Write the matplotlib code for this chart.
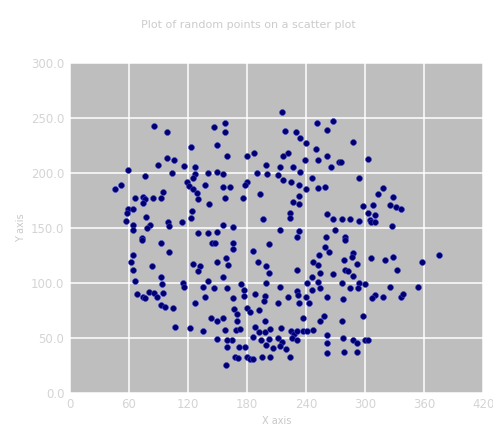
import numpy as np
import matplotlib
matplotlib.use("Agg")
import matplotlib.pyplot as plt

title = "Plot of random points on a scatter plot"
x_label = "X axis"
y_label = "Y axis"
x_ticks = [0, 60, 120, 180, 240, 300, 360, 420]
y_ticks = [0, 50, 100, 150, 200, 250, 300]

# values, grouped roughly left/top to right/bottom
x_vals = [
    85, 99, 123, 146, 149, 99, 106, 89, 116, 127, 59, 104, 127, 140, 149, 76, 125, 119, 121, 137,
    52, 46, 125, 129, 95, 66, 74, 76, 84, 92, 130, 74, 141, 59, 64, 58, 124, 77, 123, 57,
    100, 114, 81, 64, 78, 101, 64, 73, 130, 140, 149,
    216, 158, 158, 251, 267, 261, 219, 230, 234, 240, 250, 187, 180, 160, 222, 217, 239, 252, 261, 273,
    199, 213, 227, 265, 190, 200, 211, 234, 156, 217, 225, 246, 180, 178, 233, 240, 252, 259, 156, 163,
    193, 158, 176, 233, 227, 233, 224, 224, 196, 261, 267, 156, 166, 233, 213, 269, 260, 231,
    288, 303, 276, 294, 318, 313, 328, 308, 298, 325, 331, 336, 303, 310, 277, 285, 294, 305, 306, 310,
    327, 280,
    92, 73, 101, 64, 62, 83, 64, 125, 132, 130, 149, 144, 147, 92, 66, 94, 115, 116, 140, 135,
    146, 68, 74, 76, 80, 85, 88, 95, 137, 127, 92, 97, 105, 143, 149, 107, 122, 135, 149,
    166, 166, 202, 186, 159, 161, 191, 199, 202, 231, 259, 263, 253, 247, 252, 254, 267, 246, 252, 241,
    254, 246, 156, 160, 174, 177, 199, 213, 231, 232, 222, 188, 198, 177, 166, 197, 233, 240, 243, 211,
    261, 167, 180, 183, 192, 170, 156, 170, 198, 237, 258, 254, 158, 169, 173, 188, 192, 198, 203, 215,
    225, 228, 231, 237, 241, 247, 226, 231, 165, 160, 186, 194, 202, 211, 216, 261, 160, 172, 178, 199,
    206, 213, 220, 261, 168, 171, 180, 183, 186, 195, 203, 224, 261, 159,
    280, 288, 287, 279, 292, 306, 320, 328, 332, 358, 375, 280, 283, 288, 277, 294, 300, 293, 285, 325,
    354, 310, 307, 318, 336, 339, 278, 298, 277, 278, 288, 292, 300, 303, 279, 292,
]
y_vals = [
    243, 237, 224, 242, 225, 214, 212, 207, 206, 205, 203, 200, 199, 200, 201, 197, 195, 192, 188, 189,
    189, 185, 185, 182, 183, 177, 178, 176, 177, 177, 176, 173, 172, 167, 167, 164, 165, 160, 159, 156,
    155, 155, 153, 153, 150, 152, 148, 141, 145, 145, 146,
    255, 245, 237, 245, 247, 239, 238, 237, 232, 227, 222, 218, 215, 215, 218, 215, 212, 212, 215, 210,
    207, 205, 205, 205, 200, 199, 198, 201, 199, 194, 192, 195, 192, 189, 189, 185, 186, 187, 187, 187,
    181, 177, 177, 179, 174, 172, 164, 159, 158, 163, 158, 153, 151, 147, 148, 148, 142, 142,
    228, 213, 210, 195, 186, 181, 178, 171, 170, 171, 169, 167, 164, 162, 158, 158, 156, 157, 155, 155,
    152, 142,
    136, 139, 128, 125, 119, 115, 112, 117, 115, 111, 119, 136, 136, 105, 102, 99, 100, 96, 102, 96,
    95, 90, 87, 86, 92, 91, 87, 91, 87, 82, 80, 78, 77, 68, 65, 60, 59, 56, 49,
    136, 131, 135, 129, 123, 116, 119, 115, 109, 112, 133, 128, 125, 119, 116, 109, 108, 105, 101, 100,
    95, 94, 105, 95, 99, 94, 100, 96, 93, 89, 87, 90, 88, 88, 86, 84, 82, 87, 82, 82,
    87, 76, 77, 74, 75, 72, 68, 65, 65, 68, 70, 65, 57, 57, 58, 60, 55, 55, 58, 59,
    56, 54, 56, 56, 56, 57, 50, 48, 48, 48, 51, 48, 49, 50, 46, 53, 42, 42, 42, 44,
    41, 43, 40, 45, 33, 32, 33, 31, 31, 33, 33, 33, 36, 25,
    139, 127, 124, 121, 117, 123, 121, 124, 112, 119, 125, 112, 111, 106, 100, 100, 99, 95, 95, 96,
    96, 89, 86, 87, 87, 90, 85, 70, 65, 50, 48, 45, 48, 48, 37, 37,
]

fig = plt.figure(figsize=(4.93, 4.28), dpi=100)
ax = fig.add_axes([0.142, 0.082, 0.838, 0.771])
ax.set_facecolor('#bebebe')

ax.scatter(x_vals, y_vals, s=18, color='#000070', edgecolors='#4040c8', linewidths=0.4, zorder=3)

ax.set_xlim(x_ticks[0], x_ticks[-1])
ax.set_ylim(y_ticks[0], y_ticks[-1])
ax.set_xticks(x_ticks)
ax.set_yticks(y_ticks, [f'{v:.1f}' for v in y_ticks])
ax.grid(True, color='white', linewidth=1.1, zorder=0)
ax.set_axisbelow(True)
for s in ax.spines.values():
    s.set_visible(False)
ax.tick_params(length=0, labelsize=8.5, labelcolor='#d4d4d4', pad=4)

ax.set_xlabel(x_label, fontsize=7, color='#c8c8c8', labelpad=3)
ax.set_ylabel(y_label, fontsize=7, color='#c8c8c8', labelpad=4)
fig.text(0.503, 0.942, title, ha='center', va='center', fontsize=8, color='#cccccc')

fig.savefig('out.png', dpi=100)
